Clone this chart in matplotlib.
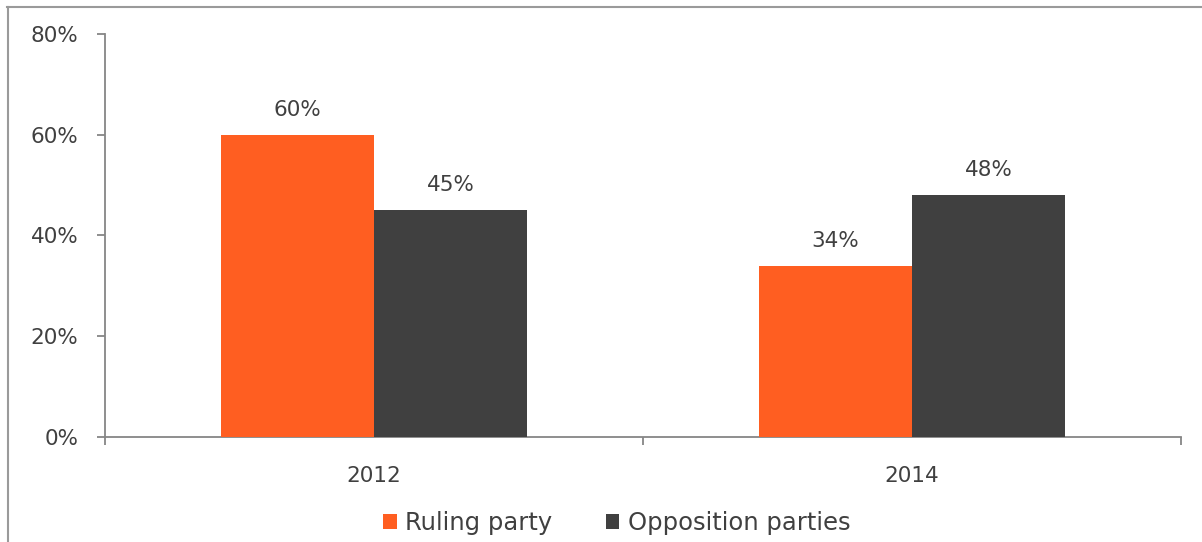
import matplotlib
matplotlib.use("Agg")
import matplotlib.pyplot as plt
import numpy as np
from matplotlib.lines import Line2D

categories = ["2012", "2014"]
series_names = ["Ruling party", "Opposition parties"]
ruling = [60, 34]
opposition = [45, 48]
yticks = [0, 20, 40, 60, 80]
ytick_labels = ["0%", "20%", "40%", "60%", "80%"]

colors = ["#FF5E21", "#404040"]
text_color = "#404040"
axis_color = "#868686"

plt.rcParams['font.family'] = ['DejaVu Sans']

W, H = 1202, 542
fig = plt.figure(figsize=(W / 100, H / 100), dpi=100)
fig.patch.set_facecolor("white")

# border lines (top and left)
fig.add_artist(Line2D([7 / W, 1.0], [1 - 6.5 / H, 1 - 6.5 / H], color="#9a9a9a", lw=1.5, zorder=1))
fig.add_artist(Line2D([7.5 / W, 7.5 / W], [0, 1 - 6.5 / H], color="#9a9a9a", lw=1.5, zorder=1))

ax = fig.add_axes([105 / W, 1 - 437 / H, (1181 - 105) / W, (437 - 34) / H])
ax.patch.set_alpha(0)

x = np.arange(len(categories))
bw = 0.285
b1 = ax.bar(x - bw / 2, ruling, bw, color=colors[0], label=series_names[0], zorder=3)
b2 = ax.bar(x + bw / 2, opposition, bw, color=colors[1], label=series_names[1], zorder=3)

fs = 15.5
for bars, vals in ((b1, ruling), (b2, opposition)):
    for r, v in zip(bars, vals):
        ax.text(r.get_x() + r.get_width() / 2, v + 3.0, f"{v}%", ha="center", va="bottom",
                fontsize=fs, color=text_color)

ax.set_xlim(-0.5, 1.5)
ax.set_ylim(0, 80)
ax.set_yticks(yticks)
ax.set_yticklabels(ytick_labels)
ax.set_xticks(x)
ax.set_xticklabels(categories)
ax.set_xticks([-0.5, 0.5, 1.5], minor=True)
ax.tick_params(axis="x", which="major", length=0, pad=21, labelsize=fs, labelcolor=text_color)
ax.tick_params(axis="x", which="minor", length=6, width=1.3, color=axis_color, direction="out")
ax.tick_params(axis="y", length=6, width=1.3, color=axis_color, pad=13, labelsize=fs,
               labelcolor=text_color, direction="out")

for s in ["top", "right"]:
    ax.spines[s].set_visible(False)
for s in ["left", "bottom"]:
    ax.spines[s].set_color(axis_color)
    ax.spines[s].set_linewidth(1.3)

leg = fig.legend(handles=[b1, b2], labels=series_names, loc="center",
                 bbox_to_anchor=(617 / W, 1 - 523 / H), ncol=2, frameon=False,
                 fontsize=17.5, handlelength=0.55, handleheight=0.55, handletextpad=0.35,
                 columnspacing=2.2, labelcolor=text_color)

fig.savefig("out.png", dpi=100)
